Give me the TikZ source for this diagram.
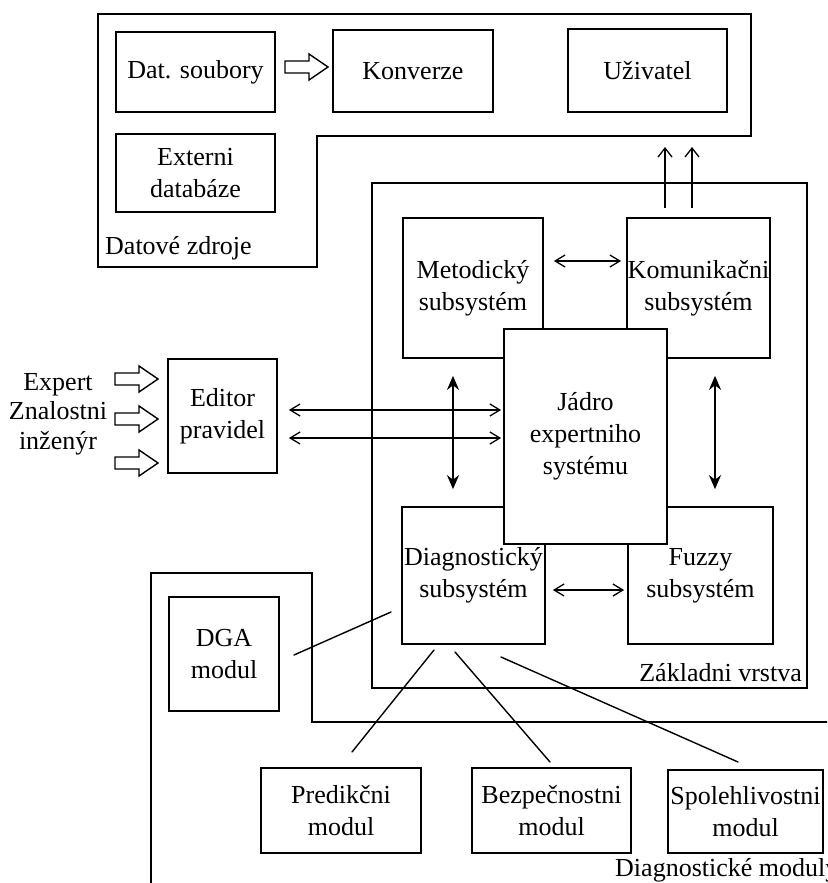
\documentclass[tikz,border=0pt]{standalone}
\usepackage{fontspec}
\setmainfont{Liberation Serif}
\usetikzlibrary{arrows.meta,calc}
\begin{document}
\begin{tikzpicture}[x=1pt,y=-1pt,
  every node/.style={font=\fontsize{26}{32}\selectfont},
  box/.style={draw,line width=1.7pt,fill=white,align=center,inner sep=0pt},
  frame/.style={draw,line width=1.7pt},
  lbl/.style={inner sep=0pt},
  barb/.style={line width=1.3pt,-{Straight Barb[length=9pt,width=14pt]}},
  dbl/.style={line width=1.3pt,{Straight Barb[length=10pt,width=12pt]}-{Straight Barb[length=10pt,width=12pt]}},
  vdbl/.style={line width=2pt,{Stealth[length=14pt,width=12pt]}-{Stealth[length=14pt,width=12pt]}},
  thinline/.style={line width=1.4pt,line cap=round},
  harrow/.pic={\draw[line width=1.4pt,fill=white] (0,-6)--(24,-6)--(24,-13)--(43,0)--(24,13)--(24,6)--(0,6)--cycle;}
]
\useasboundingbox (0,0) rectangle (827,883);
\clip (0,0) rectangle (827,883);

% frames
\draw[frame] (98,14) -- (751,14) -- (751,136) -- (317,136) -- (317,267) -- (98,267) -- cycle;
\draw[frame] (372,183) rectangle (807,688);
\draw[frame] (151,900) -- (151,573) -- (312,573) -- (312,722) -- (850,722);

% data sources
\node[box,minimum width=159,minimum height=80] (dat) at (195.5,72) {Dat. soubory};
\node[box,minimum width=160,minimum height=82] (konv) at (413,71) {Konverze};
\node[box,minimum width=159,minimum height=83] (uziv) at (647.5,70.5) {Uživatel};
\node[box,minimum width=159,minimum height=78] (ext) at (195.5,173) {Externi\\databáze};
\node[lbl,anchor=west] (dzl) at (105,248) {Datové zdroje};
\pic at (285,67) {harrow};

% base layer
\node[box,minimum width=140,minimum height=140] (met) at (473,288) {Metodický\\subsystém};
\node[box,minimum width=143,minimum height=140] (kom) at (698.5,288) {Komunikačni\\subsystém};
\node[box,minimum width=143,minimum height=137] (diag) at (473.5,575.5) {Diagnostický\\subsystém};
\node[box,minimum width=145,minimum height=137] (fuzzy) at (700.5,575.5) {Fuzzy\\subsystém};
\node[box,minimum width=163,minimum height=215] (jadro) at (585.5,436.5) {Jádro\\expertniho\\systému};
\node[lbl,anchor=east] (zvl) at (802,673) {Základni vrstva};

% editor
\node[box,minimum width=109,minimum height=114] (editor) at (222.5,416) {Editor\\pravidel};
\node[lbl,align=center,font=\fontsize{26}{29.5}\selectfont] (people) at (58,414) {Expert\\Znalostni\\inženýr};
\pic at (115,379) {harrow};
\pic at (115,419) {harrow};
\pic at (115,463) {harrow};

% diagnostic modules
\node[box,minimum width=110,minimum height=114] (dga) at (224,654) {DGA\\modul};
\node[box,minimum width=160,minimum height=85] (pred) at (341,810.5) {Predikčni\\modul};
\node[box,minimum width=159,minimum height=85] (bezp) at (551.5,810.5) {Bezpečnostni\\modul};
\node[box,minimum width=155,minimum height=83] (spol) at (745.5,811.5) {Spolehlivostni\\modul};
\node[lbl,anchor=west] (dml) at (615,870) {Diagnostické moduly};

% connectors
\coordinate (u1s) at (665,208); \coordinate (u1e) at (665,147);
\coordinate (u2s) at (692,208); \coordinate (u2e) at (692,147);
\draw[barb] (u1s) -- (u1e);
\draw[barb] (u2s) -- (u2e);

\coordinate (mk) at (0,261);
\draw[dbl,shorten <=10pt,shorten >=5pt] (met.east |- mk) -- (kom.west |- mk);

\coordinate (h1) at (0,410);
\coordinate (h2) at (0,438);
\draw[dbl,shorten <=11pt,shorten >=2pt] (editor.east |- h1) -- (jadro.west |- h1);
\draw[dbl,shorten <=11pt,shorten >=2pt] (editor.east |- h2) -- (jadro.west |- h2);

\coordinate (v1) at (453,0);
\coordinate (v2) at (715,0);
\draw[vdbl,shorten <=17pt,shorten >=17pt] (met.south -| v1) -- (diag.north -| v1);
\draw[vdbl,shorten <=17pt,shorten >=17pt] (kom.south -| v2) -- (fuzzy.north -| v2);

\coordinate (df) at (0,590);
\draw[dbl,shorten <=7pt,shorten >=3pt] (diag.east |- df) -- (fuzzy.west |- df);

\coordinate (l1a) at (294,655); \coordinate (l1b) at (391,612);
\coordinate (l2a) at (434,650); \coordinate (l2b) at (352,752);
\coordinate (l3a) at (455,652); \coordinate (l3b) at (550,762);
\coordinate (l4a) at (501,657); \coordinate (l4b) at (738,762);
\draw[thinline] (l1a) -- (l1b);
\draw[thinline] (l2a) -- (l2b);
\draw[thinline] (l3a) -- (l3b);
\draw[thinline] (l4a) -- (l4b);
\end{tikzpicture}
\end{document}
